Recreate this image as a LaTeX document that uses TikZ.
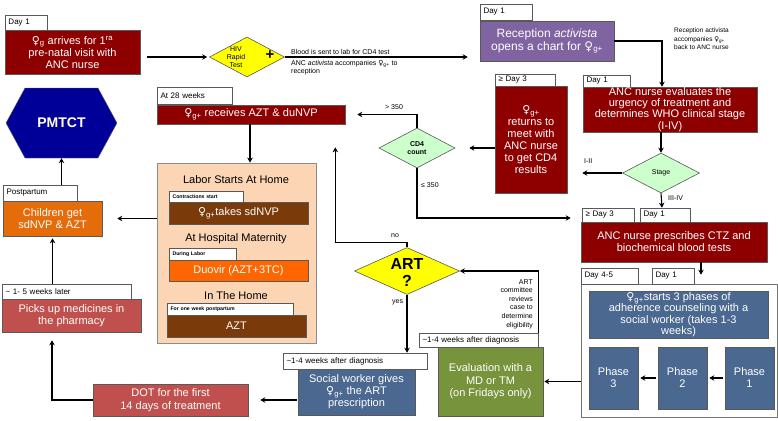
\documentclass[tikz,border=0pt]{standalone}
\usepackage{fontspec}
\setmainfont{Liberation Sans}
\newfontfamily\dvs{DejaVu Sans}
\usetikzlibrary{shapes.geometric,shapes.symbols,arrows.meta,calc}
\definecolor{cDred}{HTML}{8E0000}
\definecolor{cPurp}{HTML}{8064A2}
\definecolor{cLred}{HTML}{C0504D}
\definecolor{cBgray}{HTML}{4A6890}
\definecolor{cOlive}{HTML}{77933C}
\definecolor{cBrown}{HTML}{7B3A0A}
\definecolor{cOrange}{HTML}{FF6600}
\definecolor{cOrangeD}{HTML}{E46C0A}
\definecolor{cPeach}{HTML}{FCD5B4}
\definecolor{cGreen}{HTML}{CCFFCC}
\definecolor{cYellow}{HTML}{FFFF00}
\definecolor{cNavy}{HTML}{000099}
\newcommand\fem[1]{{\dvs\char"2640}\textsubscript{#1}}
% box from (x1,y1) to (x2,y2)
\newcommand\bx[7]{\pgfmathsetmacro\bw{#5-#3}\pgfmathsetmacro\bh{#6-#4}%
  \pgfmathsetmacro\cx{(#3+#5)/2}\pgfmathsetmacro\cy{(#4+#6)/2}%
  \node[#2, minimum width=\bw pt, minimum height=\bh pt] (#1) at (\cx,\cy) {#7};}
\newcommand\tb[7]{\pgfmathsetmacro\bw{#5-#3}\pgfmathsetmacro\bh{#6-#4}%
  \pgfmathsetmacro\tw{#5-#3-7}%
  \pgfmathsetmacro\cx{(#3+#5)/2}\pgfmathsetmacro\cy{(#4+#6)/2}%
  \node[#2, text width=\tw pt, minimum height=\bh pt] (#1) at (\cx,\cy) {#7};}
\begin{document}
\begin{tikzpicture}[x=1pt,y=-1pt,
  bxs/.style={draw=black!65, line width=0.6pt, inner sep=1pt, align=center, text=white},
  redb/.style={bxs, fill=cDred, font=\fontsize{11}{12}\selectfont},
  purpb/.style={bxs, fill=cPurp, font=\fontsize{12}{13}\selectfont},
  lredb/.style={bxs, fill=cLred, font=\fontsize{11}{12.5}\selectfont},
  blueb/.style={bxs, fill=cBgray, font=\fontsize{11}{12}\selectfont},
  oliveb/.style={bxs, fill=cOlive, font=\fontsize{11}{12.5}\selectfont},
  brownb/.style={bxs, fill=cBrown, font=\fontsize{11}{12}\selectfont},
  orangeb/.style={bxs, fill=cOrange, font=\fontsize{11}{12}\selectfont},
  orangedb/.style={bxs, fill=cOrangeD, font=\fontsize{11}{12.5}\selectfont},
  peachb/.style={draw=black!45, line width=0.8pt, fill=cPeach},
  tabb/.style={draw=black!65, fill=white, line width=0.6pt, inner xsep=3.5pt, inner ysep=0pt,
    align=left, text=black, font=\fontsize{8}{9}\selectfont},
  tinytab/.style={tabb, font=\fontsize{5.2}{6}\selectfont\bfseries},
  contb/.style={draw=black!55, line width=0.6pt, fill=white},
  diam/.style={diamond, draw=black!65, line width=0.6pt, inner sep=0pt},
  lbl/.style={font=\fontsize{7}{8.6}\selectfont, inner sep=0pt, text=black},
  head/.style={font=\fontsize{11}{12}\selectfont, text=black, inner sep=0pt},
  arr/.style={-{Stealth[length=5pt,width=5.5pt]}, line width=1.1pt, black},
]
\useasboundingbox[fill=white] (0,0) rectangle (778,420);

% ---- top row ----
\tb{t1}{tabb}{5}{15}{47}{30}{Day 1}
\bx{b1}{redb}{5}{30}{140}{74}{\fem{g} arrives for 1\textsuperscript{ra}\\pre-natal visit with\\ANC nurse}

\node[diam, fill=cYellow, minimum width=75pt, minimum height=40pt] (hiv) at (247,57) {};
\node[font=\fontsize{7}{8}\selectfont, align=center, inner sep=0pt] (hivt) at (236,57) {HIV\\Rapid\\Test};
\node[font=\fontsize{15}{15}\selectfont\bfseries, inner sep=0pt] (hivp) at (270,55) {+};

\node[lbl, anchor=south west] (lb1) at (291,55) {Blood is sent to lab for CD4 test};
\node[lbl, anchor=north west, align=left] (lb2) at (291,60) {ANC \textit{activista} accompanies \fem{g+} to\\reception};

\tb{t2}{tabb}{480}{4}{532}{20}{Day 1}
\bx{recp}{purpb}{480}{21}{614}{61}{Reception \textit{activista}\\opens a chart for \fem{g+}}
\node[font=\fontsize{6.5}{8.5}\selectfont, anchor=north west, align=left, inner sep=0pt] (lb3) at (674,28) {Reception activista\\accompanies \fem{g+}\\back to ANC nurse};

% ---- second row ----
\tb{t3}{tabb}{495}{74}{555}{86}{≥ Day 3}
\bx{ret}{redb}{495}{86}{567}{193}{\fem{g+}\\returns to\\meet with\\ANC nurse\\to get CD4\\results}

\tb{t4}{tabb}{583}{75}{630}{87}{Day 1}
\bx{anc}{redb, inner ysep=0pt, font=\fontsize{11}{11.3}\selectfont}{583}{87}{757}{132}{ANC nurse evaluates the\\urgency of treatment and\\determines WHO clinical stage\\(I-IV)}

\node[diam, fill=cGreen, minimum width=77pt, minimum height=40pt] (stage) at (661,173) {};
\node[font=\fontsize{7}{8}\selectfont, inner sep=0pt] (staget) at (stage) {Stage};

\node[diam, fill=cGreen, minimum width=76pt, minimum height=40pt] (cd4) at (417,148) {};
\node[font=\fontsize{7}{8.5}\selectfont\bfseries, align=center, inner sep=0pt] (cd4t) at (cd4) {CD4\\count};

\tb{t5}{tabb}{157}{87}{232}{104}{At 28 weeks}
\bx{rec28}{redb}{157}{105}{345}{124}{\fem{g+} receives AZT \& duNVP}

% ---- PMTCT ----
\node[signal, signal to=west and east, signal pointer angle=123, fill=cNavy, draw=black!60,
  minimum width=111pt, minimum height=70pt, inner sep=0pt] (pm) at (61.5,123) {};
\node[font=\fontsize{14}{14}\selectfont\bfseries, text=white] (pmt) at (pm) {PMTCT};

% ---- peach box ----
\bx{peach}{peachb}{157}{163}{316}{343}{}
\node[head] (h1) at (236,180) {Labor Starts At Home};
\tb{c1}{tinytab}{169}{191}{243}{202}{Contractions start}
\bx{br1}{brownb}{169}{202}{308}{224}{\fem{g+}takes sdNVP}
\node[head] (h2) at (236,239) {At Hospital Maternity};
\tb{c2}{tinytab}{169}{248}{236}{260}{During Labor}
\bx{or1}{orangeb}{169}{260}{308}{281}{Duovir (AZT+3TC)}
\node[head] (h3) at (236,296) {In The Home};
\tb{c3}{tinytab}{167}{303}{293}{315}{For one week postpartum}
\bx{br2}{brownb}{167}{315}{306}{337}{AZT}

% ---- left column ----
\tb{ctab}{tabb}{3}{185}{77}{201}{Postpartum}
\bx{child}{orangedb}{3}{201}{102}{236}{Children get\\sdNVP \& AZT}
\tb{ptab}{tabb}{2}{284}{131}{299}{\textasciitilde{} 1- 5 weeks later}
\bx{pharm}{lredb}{2}{299}{141}{332}{Picks up medicines in\\the pharmacy}
\bx{dot}{lredb}{93}{384}{248}{416}{DOT for the first\\14 days of treatment}

% ---- ART ----
\node[diam, fill=cYellow, minimum width=105pt, minimum height=47pt] (art) at (407,271) {};
\node[font=\fontsize{16}{17}\selectfont\bfseries, align=center, inner sep=0pt] (artt) at (407,272) {ART\\?};

\tb{swtab}{tabb}{283}{353}{427}{369}{\textasciitilde{}1-4 weeks after diagnosis}
\bx{sw}{blueb}{298}{369}{415}{415}{Social worker gives\\\fem{g+} the ART\\prescription}

\tb{etab}{tabb}{419}{333}{538}{347}{\textasciitilde{}1-4 weeks after diagnosis}
\bx{eval}{oliveb}{438}{347}{543}{416}{Evaluation with a\\MD or TM\\(on Fridays only)}
\node[lbl, anchor=north east, align=right] (lb4) at (533,279) {ART\\committee\\reviews\\case to\\determine\\eligibility};

% ---- right lower ----
\tb{t7}{tabb}{582}{208}{634}{222}{≥ Day 3}
\tb{t8}{tabb}{640}{208}{690}{222}{Day 1}
\bx{presc}{redb}{581}{222}{767}{262}{ANC nurse prescribes CTZ and\\biochemical blood tests}

\bx{cont}{contb}{581}{284}{777}{417}{}
\tb{t9}{tabb}{581}{268}{638}{284}{Day 4-5}
\tb{t10}{tabb}{652}{268}{694}{284}{Day 1}
\bx{couns}{blueb, inner ysep=0pt, font=\fontsize{11}{11.3}\selectfont}{589}{291}{768}{338}{\fem{g+}starts 3 phases of\\adherence counseling with a\\social worker (takes 1-3\\weeks)}
\bx{ph3}{blueb}{589}{347}{638}{409}{Phase\\3}
\bx{ph2}{blueb}{658}{347}{707}{409}{Phase\\2}
\bx{ph1}{blueb}{725}{347}{774}{409}{Phase\\1}

% ---- labels on connectors ----
\node[lbl, anchor=west] (l350a) at (385,107) {> 350};
\node[lbl, anchor=west] (l350b) at (421,185) {≤ 350};
\node[lbl, anchor=west] (lI) at (584,161) {I-II};
\node[lbl, anchor=west] (lIII) at (668,198) {III-IV};
\node[lbl, anchor=west] (lno) at (391,236) {no};
\node[lbl, anchor=west] (lyes) at (392,302) {yes};

% ---- connectors ----
\draw[arr, shorten <=7pt, shorten >=2pt] (b1.east |- hiv.west) -- (hiv.west);
\draw[arr, shorten >=12pt] (hiv.east) -- (recp.west |- hiv.east);
\draw[arr] (recp.east) -| ($(anc.north)+(-8,0)$);
\draw[arr] ($(anc.south)+(-9,0)$) -- (stage.north);
\draw[arr, shorten >=15pt] (stage.west) -- (stage.west -| ret.east);
\draw[arr] (stage.south) -- ($(t8.north)+(-3,0)$);
\draw[arr, shorten >=14pt] (ret.west |- cd4.east) -- (cd4.east);
\draw[arr, shorten >=12pt] (cd4.north) |- (rec28.east);
\draw[arr, shorten >=11pt] (cd4.south) |- ($(t7.west)+(0,3)$);
\draw[arr] (rec28.south -| 250,0) -- (peach.north -| 250,0);
\draw[arr, shorten >=15pt] (peach.west |- child.east) -- (child.east);
\draw[arr] (ctab.north -| pm.south) -- (pm.south);
\draw[arr, shorten >=2pt] (ptab.north -| child.south) -- (child.south);
\draw[arr, shorten >=8pt] (dot.west) -| ($(pharm.south)+(-19.5,0)$);
\draw[arr, shorten <=1pt, shorten >=12pt] (sw.west |- dot.east) -- (dot.east);
\draw[arr, shorten >=23pt] (art.north) -- ++(0,-5) -| ($(rec28.south east)+(-10,0)$);
\draw[arr] (art.south) -- (art.south |- swtab.north);
\draw[arr] (etab.north east) |- (art.east);
\draw[arr, shorten >=1pt] (eval.east -| cont.west) -- (eval.east);
\draw[arr, shorten >=9pt] ($(presc.south)+(27,0)$) -- ($(cont.north)+(22,0)$);
\draw[arr, shorten <=2pt, shorten >=2pt] (ph1.west) -- (ph2.east);
\draw[arr, shorten <=2pt, shorten >=2pt] (ph2.west) -- (ph3.east);
\end{tikzpicture}
\end{document}
